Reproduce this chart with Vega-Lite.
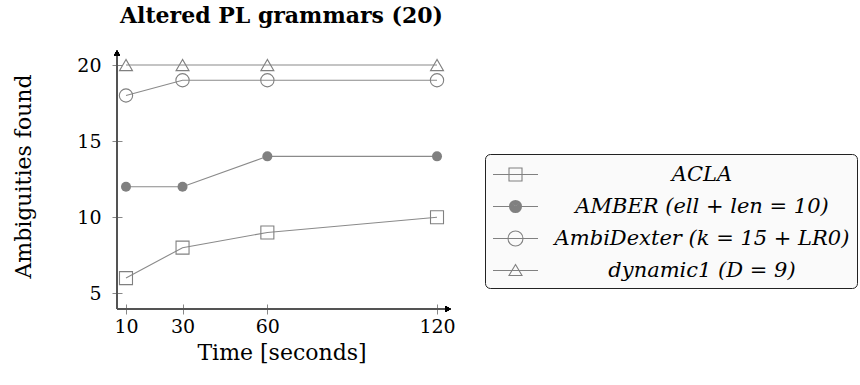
{
  "$schema": "https://vega.github.io/schema/vega-lite/v6.json",
  "width": 329,
  "height": 254,
  "autosize": {"type": "none"},
  "padding": {"left": 117, "top": 55, "right": 414, "bottom": 76},
  "background": "white",
  "config": {
    "view": {"stroke": null},
    "font": "DejaVu Serif",
    "axis": {
      "labelFont": "DejaVu Serif",
      "titleFont": "DejaVu Serif",
      "labelColor": "black",
      "titleColor": "black",
      "titleFontWeight": "normal",
      "grid": false,
      "domain": false,
      "tickColor": "#888888",
      "tickWidth": 1,
      "labelFlush": false
    }
  },
  "title": {
    "text": "Altered PL grammars (20)",
    "font": "DejaVu Serif",
    "fontSize": 22,
    "fontWeight": "bold",
    "color": "black",
    "frame": "group",
    "anchor": "middle",
    "offset": 22
  },
  "data": {
    "values": [
      {"series": "ACLA", "time": 10, "found": 6},
      {"series": "ACLA", "time": 30, "found": 8},
      {"series": "ACLA", "time": 60, "found": 9},
      {"series": "ACLA", "time": 120, "found": 10},
      {"series": "AMBER (ell + len = 10)", "time": 10, "found": 12},
      {"series": "AMBER (ell + len = 10)", "time": 30, "found": 12},
      {"series": "AMBER (ell + len = 10)", "time": 60, "found": 14},
      {"series": "AMBER (ell + len = 10)", "time": 120, "found": 14},
      {"series": "AmbiDexter (k = 15 + LR0)", "time": 10, "found": 18},
      {"series": "AmbiDexter (k = 15 + LR0)", "time": 30, "found": 19},
      {"series": "AmbiDexter (k = 15 + LR0)", "time": 60, "found": 19},
      {"series": "AmbiDexter (k = 15 + LR0)", "time": 120, "found": 19},
      {"series": "dynamic1 (D = 9)", "time": 10, "found": 20},
      {"series": "dynamic1 (D = 9)", "time": 30, "found": 20},
      {"series": "dynamic1 (D = 9)", "time": 60, "found": 20},
      {"series": "dynamic1 (D = 9)", "time": 120, "found": 20}
    ]
  },
  "encoding": {
    "x": {
      "field": "time",
      "type": "quantitative",
      "scale": {"domain": [6.82, 123.18], "nice": false, "zero": false},
      "axis": {
        "values": [10, 30, 60, 120],
        "offset": -5,
        "tickSize": 10,
        "labelPadding": 3,
        "labelFontSize": 19,
        "title": "Time [seconds]",
        "titleFontSize": 22,
        "titlePadding": 6
      }
    },
    "y": {
      "field": "found",
      "type": "quantitative",
      "scale": {"domain": [3.97, 20.66], "nice": false, "zero": false},
      "axis": {
        "values": [5, 10, 15, 20],
        "offset": -5,
        "tickSize": 10,
        "labelPadding": 11,
        "labelFontSize": 19,
        "title": "Ambiguities found",
        "titleFontSize": 22,
        "titlePadding": 41,
        "titleY": 121
      }
    }
  },
  "layer": [
    {
      "mark": {"type": "line", "color": "#8a8a8a", "strokeWidth": 1.1},
      "encoding": {"detail": {"field": "series", "type": "nominal"}}
    },
    {
      "transform": [{"filter": "datum.series === 'ACLA'"}],
      "mark": {"type": "point", "shape": "square", "size": 169, "filled": false, "stroke": "#808080", "strokeWidth": 1.1, "opacity": 1}
    },
    {
      "transform": [{"filter": "datum.series === 'AMBER (ell + len = 10)'"}],
      "mark": {"type": "point", "shape": "circle", "size": 100, "filled": true, "fill": "#808080", "opacity": 1}
    },
    {
      "transform": [{"filter": "datum.series === 'AmbiDexter (k = 15 + LR0)'"}],
      "mark": {"type": "point", "shape": "circle", "size": 177, "filled": false, "stroke": "#808080", "strokeWidth": 1.1, "opacity": 1}
    },
    {
      "transform": [{"filter": "datum.series === 'dynamic1 (D = 9)'"}],
      "mark": {"type": "point", "shape": "triangle-up", "size": 169, "filled": false, "stroke": "#808080", "strokeWidth": 1.1, "opacity": 1}
    },
    {
      "mark": {"type": "point", "opacity": 0, "filled": false, "stroke": "#808080"},
      "encoding": {
        "shape": {
          "field": "series",
          "type": "nominal",
          "scale": {
            "domain": ["ACLA", "AMBER (ell + len = 10)", "AmbiDexter (k = 15 + LR0)", "dynamic1 (D = 9)"],
            "range": [
              "M-1,0H2.6M0.28,-0.52H1.32V0.52H0.28Z",
              "M-1,0H2.6M1.28,0A0.48,0.48,0,1,1,0.32,0A0.48,0.48,0,1,1,1.28,0ZM1.2,0A0.4,0.4,0,1,1,0.4,0A0.4,0.4,0,1,1,1.2,0ZM1.12,0A0.32,0.32,0,1,1,0.48,0A0.32,0.32,0,1,1,1.12,0ZM1.04,0A0.24,0.24,0,1,1,0.56,0A0.24,0.24,0,1,1,1.04,0ZM0.96,0A0.16,0.16,0,1,1,0.64,0A0.16,0.16,0,1,1,0.96,0ZM0.88,0A0.08,0.08,0,1,1,0.72,0A0.08,0.08,0,1,1,0.88,0ZM0.83,0A0.03,0.03,0,1,1,0.77,0A0.03,0.03,0,1,1,0.83,0Z",
              "M-1,0H2.6M1.4,0A0.6,0.6,0,1,1,0.2,0A0.6,0.6,0,1,1,1.4,0Z",
              "M-1,0H2.6M0.8,-0.48L1.32,0.4L0.28,0.4Z"
            ]
          },
          "legend": {
            "orient": "none",
            "legendX": 368,
            "legendY": 99,
            "title": null,
            "padding": 7,
            "fillColor": "#fafafa",
            "strokeColor": "#222222",
            "cornerRadius": 5,
            "labelFont": "DejaVu Serif",
            "labelFontStyle": "italic",
            "labelFontSize": 21,
            "labelColor": "black",
            "labelAlign": "center",
            "labelOffset": 183,
            "labelLimit": 500,
            "symbolSize": 625,
            "symbolStrokeColor": "#808080",
            "symbolFillColor": "transparent",
            "symbolStrokeWidth": 1.1,
            "symbolOpacity": 1,
            "rowPadding": 8
          }
        }
      }
    },
    {
      "mark": {"type": "rule", "color": "#555555", "strokeWidth": 1.4},
      "encoding": {"x": {"datum": 6.82}, "y": null}
    },
    {
      "mark": {"type": "rule", "color": "#555555", "strokeWidth": 1.4},
      "encoding": {"y": {"datum": 3.97}, "x": null}
    },
    {
      "mark": {"type": "point", "shape": "triangle-right", "size": 36, "filled": true, "color": "black", "opacity": 1},
      "encoding": {"x": {"datum": 123.9}, "y": {"datum": 3.97}}
    },
    {
      "mark": {"type": "point", "shape": "triangle-up", "size": 36, "filled": true, "color": "black", "opacity": 1},
      "encoding": {"x": {"datum": 6.82}, "y": {"datum": 20.79}}
    }
  ]
}
